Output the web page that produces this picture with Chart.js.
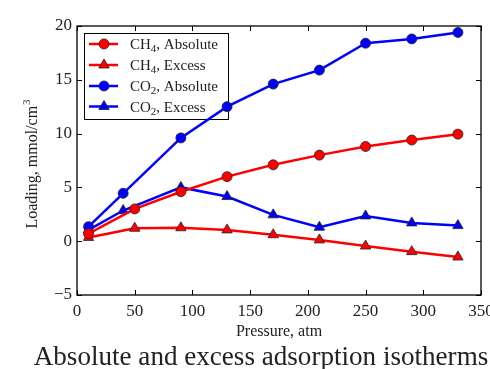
<!DOCTYPE html>
<html>
<head>
<meta charset="utf-8">
<script src="https://cdn.jsdelivr.net/npm/chart.js@4"></script>
<style>
html,body{margin:0;padding:0;background:#fff;}
canvas{display:block;}
</style>
</head>
<body>
<canvas id="c" width="490" height="369"></canvas>
<script>
const pressureCH4 = [10, 50, 90, 130, 170, 210, 250, 290, 330];
const pressureCO2 = [10, 40, 90, 130, 170, 210, 250, 290, 330];
const ch4Absolute = [0.7, 3.0, 4.6, 6.0, 7.1, 8.0, 8.8, 9.4, 9.95];
const ch4Excess   = [0.35, 1.2, 1.25, 1.05, 0.6, 0.12, -0.45, -0.97, -1.47];
const co2Absolute = [1.35, 4.45, 9.6, 12.5, 14.6, 15.9, 18.4, 18.8, 19.4];
const co2Excess   = [1.05, 2.85, 5.0, 4.15, 2.45, 1.3, 2.35, 1.7, 1.45];
const xTicks = [0, 50, 100, 150, 200, 250, 300, 350];
const yTicks = [-5, 0, 5, 10, 15, 20];
const legendLabels = [
  ['CH', '4', ', Absolute'],
  ['CH', '4', ', Excess'],
  ['CO', '2', ', Absolute'],
  ['CO', '2', ', Excess']
];
const xTitle = 'Pressure, atm';
const yTitle = ['Loading, mmol/cm', '3'];
const caption = 'Absolute and excess adsorption isotherms';

const RED = '#ff0000', BLUE = '#0000ff';
function pts(xs, ys){ return xs.map((x,i)=>({x:x, y:ys[i]})); }
function ds(label, xs, ys, color, style){
  return {
    label: label, data: pts(xs, ys),
    borderColor: color, backgroundColor: color,
    borderWidth: 2.5,
    pointStyle: style,
    pointRadius: style === 'triangle' ? 6 : 5,
    pointHoverRadius: style === 'triangle' ? 6 : 5,
    pointBackgroundColor: color,
    pointBorderColor: '#222',
    pointBorderWidth: 0.8,
    tension: 0, fill: false
  };
}
const datasets = [
  ds('CH4, Absolute', pressureCH4, ch4Absolute, RED, 'circle'),
  ds('CH4, Excess', pressureCH4, ch4Excess, RED, 'triangle'),
  ds('CO2, Absolute', pressureCO2, co2Absolute, BLUE, 'circle'),
  ds('CO2, Excess', pressureCO2, co2Excess, BLUE, 'triangle')
];

const SERIF = '"Liberation Serif", "DejaVu Serif", serif';

const decor = {
  id: 'decor',
  beforeDatasetsDraw(chart){
    const ctx = chart.ctx;
    // legend box
    const lx = 84, ly = 33, lw = 144, lh = 86;
    ctx.save();
    ctx.fillStyle = '#fff';
    ctx.fillRect(lx, ly, lw, lh);
    ctx.strokeStyle = '#000';
    ctx.lineWidth = 1;
    ctx.strokeRect(lx + 0.5, ly + 0.5, lw, lh);
    const rows = [44, 65, 86, 106.5];
    chart.data.datasets.forEach((d, i) => {
      const y = rows[i];
      ctx.strokeStyle = d.borderColor;
      ctx.lineWidth = d.borderWidth;
      ctx.beginPath(); ctx.moveTo(89, y); ctx.lineTo(118, y); ctx.stroke();
      ctx.fillStyle = d.pointBackgroundColor;
      ctx.strokeStyle = d.pointBorderColor;
      ctx.lineWidth = d.pointBorderWidth;
      Chart.helpers.drawPoint(ctx, {pointStyle: d.pointStyle, radius: d.pointRadius, rotation: 0, borderWidth: d.pointBorderWidth}, 104, y);
      const lab = legendLabels[i];
      ctx.fillStyle = '#222';
      ctx.textBaseline = 'alphabetic';
      ctx.textAlign = 'left';
      ctx.font = '15px ' + SERIF;
      let tx = 130, by = y + 5;
      ctx.fillText(lab[0], tx, by); tx += ctx.measureText(lab[0]).width;
      ctx.font = '11px ' + SERIF;
      ctx.fillText(lab[1], tx, by + 3); tx += ctx.measureText(lab[1]).width;
      ctx.font = '15px ' + SERIF;
      ctx.fillText(lab[2], tx, by);
    });
    ctx.restore();
  },
  afterDraw(chart){
    const ctx = chart.ctx;
    const a = chart.chartArea;
    const xs = chart.scales.x, ys = chart.scales.y;
    ctx.save();
    // frame
    ctx.strokeStyle = '#000';
    ctx.lineWidth = 1.3;
    ctx.strokeRect(a.left, a.top, a.right - a.left, a.bottom - a.top);
    // inward ticks
    ctx.lineWidth = 1;
    const tl = 5;
    xTicks.forEach(v => {
      const px = Math.round(xs.getPixelForValue(v)) + 0.5;
      ctx.beginPath();
      ctx.moveTo(px, a.bottom); ctx.lineTo(px, a.bottom - tl);
      ctx.moveTo(px, a.top); ctx.lineTo(px, a.top + tl);
      ctx.stroke();
    });
    yTicks.forEach(v => {
      const py = Math.round(ys.getPixelForValue(v)) + 0.5;
      ctx.beginPath();
      ctx.moveTo(a.left, py); ctx.lineTo(a.left + tl, py);
      ctx.moveTo(a.right, py); ctx.lineTo(a.right - tl, py);
      ctx.stroke();
    });
    // x title
    ctx.fillStyle = '#222';
    ctx.font = '16px ' + SERIF;
    ctx.textAlign = 'center';
    ctx.textBaseline = 'alphabetic';
    ctx.fillText(xTitle, (a.left + a.right) / 2, 336);
    // y title (rotated)
    ctx.save();
    ctx.translate(37, (a.top + a.bottom) / 2 + 4);
    ctx.rotate(-Math.PI / 2);
    ctx.font = '16px ' + SERIF;
    const w1 = ctx.measureText(yTitle[0]).width;
    ctx.font = '11px ' + SERIF;
    const w2 = ctx.measureText(yTitle[1]).width;
    const start = -(w1 + w2) / 2;
    ctx.textAlign = 'left';
    ctx.font = '16px ' + SERIF;
    ctx.fillText(yTitle[0], start, 0);
    ctx.font = '11px ' + SERIF;
    ctx.fillText(yTitle[1], start + w1 + 1, -7);
    ctx.restore();
    // caption
    ctx.font = '100px ' + SERIF;
    const cw = ctx.measureText(caption).width;
    const fs = 100 * 454 / cw;
    ctx.font = fs.toFixed(1) + 'px ' + SERIF;
    ctx.fillStyle = '#222';
    ctx.textAlign = 'center';
    ctx.fillText(caption, 261, 365);
    ctx.restore();
  }
};

new Chart(document.getElementById('c'), {
  type: 'line',
  data: { datasets: datasets },
  plugins: [decor],
  options: {
    responsive: false,
    devicePixelRatio: 1,
    animation: false,
    layout: { padding: { top: 26, right: 9, left: 0, bottom: 0 } },
    plugins: { legend: { display: false }, tooltip: { enabled: false }, title: { display: false } },
    scales: {
      x: {
        type: 'linear', min: 0, max: 350,
        grid: { display: false, drawTicks: false },
        border: { display: false },
        afterBuildTicks: s => { s.ticks = xTicks.map(v => ({value: v})); },
        ticks: { padding: 6, color: '#222', font: { family: SERIF, size: 17 }, autoSkip: false, maxRotation: 0 },
        afterFit: s => { s.height = 74; s.paddingLeft = 0; s.paddingRight = 0; }
      },
      y: {
        type: 'linear', min: -5, max: 20,
        grid: { display: false, drawTicks: false },
        border: { display: false },
        afterBuildTicks: s => { s.ticks = yTicks.map(v => ({value: v})); },
        ticks: { padding: 5, color: '#222', font: { family: SERIF, size: 17 },
          callback: v => v < 0 ? '\u2212' + Math.abs(v) : String(v) },
        afterFit: s => { s.width = 77; s.paddingTop = 0; s.paddingBottom = 0; }
      }
    }
  }
});
</script>
</body>
</html>
